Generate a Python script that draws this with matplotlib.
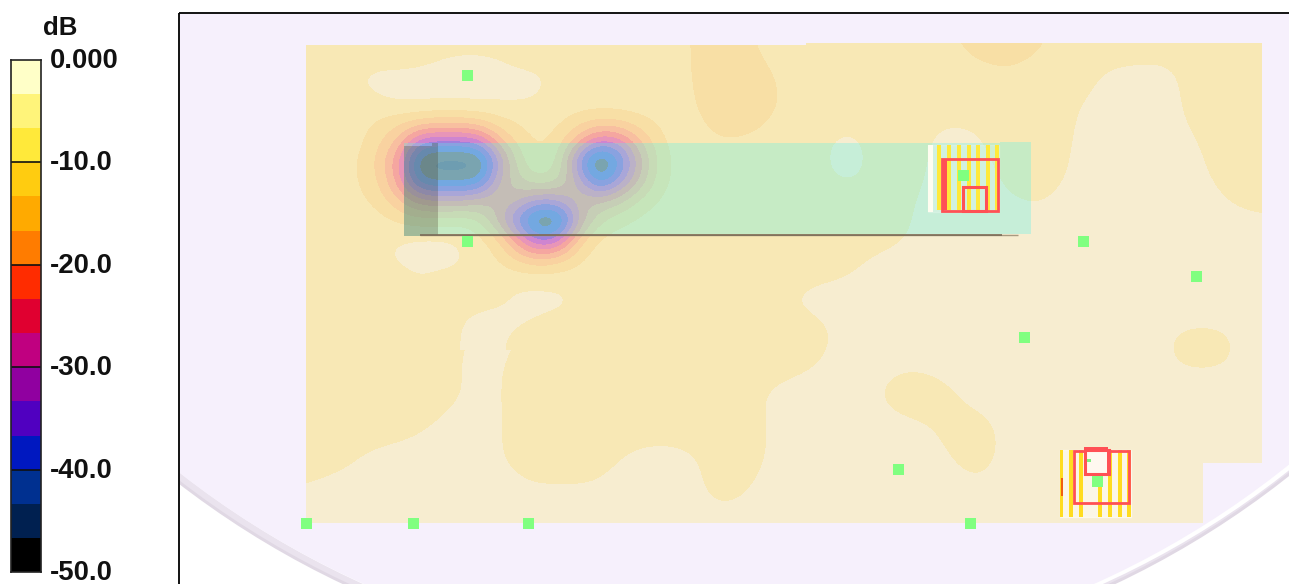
import numpy as np
import matplotlib
matplotlib.use("Agg")
import matplotlib.pyplot as plt
from matplotlib.colors import ListedColormap, BoundaryNorm
from matplotlib.patches import Rectangle, Circle, Polygon
from matplotlib.transforms import ScaledTranslation

plt.rcParams['font.family'] = ['Liberation Sans', 'DejaVu Sans']

# colour scale
bar_levels = [-50.0, -46.67, -43.33, -40.0, -36.67, -33.33, -30.0, -26.67, -23.33, -20.0, -16.67, -13.33, -10.0, -6.67, -3.33, 0.0]
bar_colors = ['#000000', '#002050', '#003090', '#0018C0', '#5000C0', '#9000A0', '#C00080', '#E00030',
              '#FF2C00', '#FF7C00', '#FFAA00', '#FFCC10', '#FFE93A', '#FFF47A', '#FFFFC8']
map_colors = ['#70708A', '#7A7898', '#8B8397', '#8088DE', '#A080DC', '#CE85D0', '#E895B8', '#F5A6A0',
              '#F8BFA0', '#F9D2A0', '#F8DFA5', '#F8E8B5', '#F7EDD0', '#F7EDD0', '#F7EDD0']
tick_values = [0.0, -10.0, -20.0, -30.0, -40.0, -50.0]
tick_labels = ['0.000', '-10.0', '-20.0', '-30.0', '-40.0', '-50.0']

# level field over the floor, coarse (dB)
field_x = list(range(306, 1267, 32))
field_y = list(range(44, 525, 32))
field_db = [
 [-11,-11,-11,-11,-11,-11,-11,-11,-11,-11,-11,-11,-13.3,-15.6,-13.3,-11,-11,-11,-11,-11,-12.5,-15,-15,-14,-11,-11.5,-11.5,-11.5,-11.5,-11,-11],
 [-11,-11,-9.5,-9,-9,-9,-9,-9.5,-11,-11,-11,-11,-13.1,-16,-15,-12.5,-11,-11,-11,-11,-11,-12,-13,-11.5,-11.5,-9.5,-9,-9,-12,-12,-12],
 [-11,-11,-11,-10.5,-10.5,-10.5,-10.5,-10.5,-11,-11,-11,-11,-12.5,-16,-16,-12.5,-11,-11.2,-11,-11,-11,-11,-11,-12,-10,-9,-9,-9,-11.5,-12,-12],
 [-11,-11,-11,-11,-11,-11,-11,-11,-11,-11,-11,-11,-11.5,-13.5,-12.5,-11,-10.5,-9.2,-11,-11,-9,-9.6,-11.5,-11.5,-9.8,-9,-9,-9,-10,-12,-12],
 [-11,-11,-11,-11,-11,-11,-11,-11,-11,-11,-11,-11,-11,-11,-11,-11,-10.5,-9,-11,-10.7,-9,-9,-10.7,-11.5,-9.5,-9,-9,-9,-9.5,-11.5,-12],
 [-11,-11,-11,-11,-11,-11,-11,-11,-11,-11,-11,-11,-11,-11,-11,-11,-11,-11.2,-11,-10,-9,-9,-9.7,-10,-9,-9,-9,-9,-9,-10,-10.5],
 [-11,-11,-11,-9.8,-9.3,-9.3,-11,-11,-11,-11,-11,-11,-11,-11,-11,-11,-11,-11,-11,-9.8,-9,-9,-9,-9,-9,-9,-9,-9,-9,-9,-9],
 [-11,-11,-11,-9.7,-9,-9,-11,-11,-11,-11,-11,-11,-11,-11,-11,-11,-11,-10.4,-9,-9,-9,-9,-9,-9,-9,-9,-9,-9,-9,-9,-9],
 [-11,-11,-11,-11,-11,-11,-10.8,-9,-9,-11,-11,-11,-11,-11,-11,-10,-9,-9,-9,-9,-9,-9,-9,-9,-9,-9,-9,-9,-9,-9,-9],
 [-11,-11,-11,-11,-11.5,-10,-9,-10.5,-11,-11,-11,-11,-11,-11,-11,-11,-11,-9,-9,-9,-9,-9,-9,-9,-9,-9,-9,-10.1,-10.4,-10.1,-9],
 [-11,-11,-11,-11,-11,-9.6,-9.7,-11,-11,-11,-11,-11,-11,-11,-11,-11,-10,-9,-9.5,-9.6,-9.2,-9,-9,-9,-9,-9,-9,-10.1,-10.4,-10.1,-9],
 [-11,-11,-11,-11,-11,-9.8,-9.7,-11,-11,-11,-11,-11,-11,-11,-10.4,-9,-9,-9,-10.2,-11.5,-10.6,-9.2,-9,-9,-9,-9,-9,-9,-9,-9,-9],
 [-11,-11,-11,-10.8,-9.8,-9,-9.8,-11,-11,-11,-11,-11,-11,-11,-10.8,-9,-9,-9,-9.2,-9.3,-10.5,-11,-9.3,-9,-9,-9,-9,-9,-9,-9,-9],
 [-11,-10.7,-9.5,-9,-9,-9,-9.8,-11,-11,-11,-9.7,-9,-9.5,-11,-10.6,-9,-9,-9,-9,-9,-9.7,-11,-9.2,-9,-9,-9,-9,-9,-9,-9,-9],
 [-9.7,-9,-9,-9,-9,-9,-9,-9.6,-9.6,-9.6,-9,-9,-9.2,-11,-9.7,-9,-9,-9,-9,-9,-9,-9.5,-9,-9,-9,-9,-9,-9,-9,-9,-9],
 [-9,-9,-9,-9,-9,-9,-9,-9,-9,-9,-9,-9,-9,-9,-9,-9,-9,-9,-9,-9,-9,-9,-9,-9,-9,-9,-9,-9,-9,-9,-9],
]

# finer level field around the three deep minima (dB)
detail_x = list(range(340, 681, 20))
detail_y = list(range(40, 341, 20))
detail_db = [
 [-11,-11,-11,-11,-11,-11,-11,-11,-11,-11,-11,-11,-11,-11,-11,-11,-11,-11],
 [-11,-11,-11,-11,-10.6,-10,-9.6,-9.6,-10,-10.8,-11,-11,-11,-11,-11,-11,-11,-11],
 [-11,-10,-9,-9,-9,-9,-9,-9,-9,-9,-9.5,-11,-11,-11,-11,-11,-11,-11],
 [-11,-11,-10.2,-9,-9,-9,-9,-9,-9.3,-9.6,-10.3,-11,-11,-11.2,-11.2,-11,-11,-11],
 [-11,-12,-13.5,-15,-16,-17,-17,-16,-14,-12.5,-11.5,-12.5,-15,-16,-15.5,-14,-12.5,-11],
 [-11,-12.5,-16,-21,-32,-33,-33,-31,-20,-15,-12.5,-15,-22,-30,-28,-20,-14,-11.5],
 [-11.5,-13.5,-18,-27,-44,-46,-46,-45,-30,-17,-13,-17,-36,-47,-38,-25,-15,-12],
 [-11.5,-13.5,-17,-26,-41,-42,-42,-41,-26,-20,-16,-19,-29,-42,-33,-23,-14.5,-12],
 [-11,-12.5,-15,-20,-26,-27,-27,-25,-23,-26,-31,-29,-23,-24,-21,-16,-13,-11.5],
 [-11,-11,-12,-14,-15,-15,-14,-16,-26,-37,-46,-44,-27,-17,-14.5,-12.5,-11.5,-11],
 [-11,-11,-10.5,-9.8,-9.3,-9.3,-10,-12,-16,-27,-36,-32,-17,-12.5,-11.5,-11,-11,-11],
 [-11,-11,-10.5,-9.7,-9,-9,-9.7,-11,-13.5,-17,-19,-17,-13.5,-11.5,-11,-11,-11,-11],
 [-11,-11,-11,-11,-10.2,-11,-11,-11,-11,-10.8,-10.8,-11,-11,-11,-11,-11,-11,-11],
 [-11,-11,-11,-11,-11,-11,-11,-11,-10.6,-9.2,-9,-9.2,-10.6,-11,-11,-11,-11,-11],
 [-11,-11,-11,-11,-11,-11,-10.2,-9.3,-9,-9.6,-10.4,-11,-11,-11,-11,-11,-11,-11],
 [-11,-11,-11,-11,-11,-11,-10,-9,-9.6,-11,-11,-11,-11,-11,-11,-11,-11,-11],
]

# measurement sites
site_x = [467, 467, 963, 1083, 1196, 1024, 898, 1097, 306, 413, 528, 970]
site_y = [75, 241, 175, 241, 276, 337, 469, 481, 523, 523, 523, 523]

# floor outline
floor_x = [306, 806, 806, 1262, 1262, 1203, 1203, 306]
floor_y = [45, 45, 43, 43, 463, 463, 523, 523]

# obstacles: stripes and frames
stripes_a = [939, 949, 959, 969, 978, 988, 997]
stripes_b = [1061.5, 1071, 1081, 1100, 1110, 1120, 1129]

W, H = 1289, 584
fig = plt.figure(figsize=(W / 100, H / 100), dpi=100, facecolor='white')
ax = fig.add_axes([0, 0, 1, 1])

cmap = ListedColormap(map_colors)
norm = BoundaryNorm(bar_levels, cmap.N)


def draw_field(xs, ys, vals, z, clip):
    dx, dy = xs[1] - xs[0], ys[1] - ys[0]
    ext = (xs[0] - dx / 2, xs[-1] + dx / 2, ys[-1] + dy / 2, ys[0] - dy / 2)
    im = ax.imshow(np.array(vals, float), extent=ext, cmap=cmap, norm=norm, origin='upper',
                   interpolation='bicubic', interpolation_stage='data', aspect='auto', zorder=z)
    im.set_clip_path(clip)
    return im


# surrounding disc with its shaded rim
plot_area = Rectangle((180, 14), W - 180, H - 14, transform=ax.transData, fc='none', ec='none')
ax.add_patch(plot_area)
for cx, r, c in [(729, 902, '#E0D8E4'), (729, 899, '#EAE3EE'), (733, 895, '#FFFFFF'), (729, 893, '#F6F0FC')]:
    disc = Circle((cx, -231), r, fc=c, ec='none', zorder=1)
    ax.add_patch(disc)
    disc.set_clip_path(plot_area)

floor = Polygon(list(zip(floor_x, floor_y)), closed=True, fc='none', ec='none', transform=ax.transData)
ax.add_patch(floor)
draw_field(field_x, field_y, field_db, 2, floor)
draw_field(detail_x, detail_y, detail_db, 3, floor)

# translucent duct
ax.add_patch(Polygon([(404, 143), (1000, 143), (1000, 142), (1031, 142), (1031, 234), (438, 234), (438, 236), (404, 236)],
                     closed=True, fc='#55F3EB', alpha=0.3, ec='none', zorder=4))
ax.add_patch(Rectangle((404, 146), 34, 90, fc='#463C28', alpha=0.28, ec='none', zorder=5))
ax.add_patch(Rectangle((432, 143), 6, 3, fc='#463C28', alpha=0.28, ec='none', zorder=5))
ax.plot([420, 1018], [235.2, 235.2], color='#A89A80', lw=1.0, zorder=6, solid_capstyle='butt')
ax.plot([420, 1002], [235.2, 235.2], color='#7A6C58', lw=1.2, zorder=6, solid_capstyle='butt')

# obstacle A
ax.add_patch(Rectangle((928, 145), 71, 67, fc='#FFFFFF', alpha=0.2, ec='#FFFFFF', lw=1, zorder=7))
ax.add_patch(Rectangle((928, 145), 5, 67, fc='#FFFDF0', ec='none', zorder=7))
for x in stripes_a:
    ax.add_patch(Rectangle((x - 2, 145), 4, 65, fc='#FFE93A', ec='none', zorder=8))
ax.add_patch(Rectangle((942, 159), 56, 52, fc='none', ec='#FF5055', lw=2.0, zorder=9))
ax.add_patch(Rectangle((942, 160), 5, 50, fc='#FF5055', ec='none', zorder=9))
ax.add_patch(Rectangle((963, 187), 23, 24, fc='none', ec='#FF5055', lw=2.2, zorder=9))

# obstacle B
ax.add_patch(Rectangle((1060, 450), 71, 67, fc='#FFFFFF', alpha=0.5, ec='#FFFFFF', lw=1, zorder=7))
for x in stripes_b:
    ax.add_patch(Rectangle((x - 1.7, 450), 3.4, 67, fc='#FFDC20', ec='none', zorder=8))
ax.add_patch(Rectangle((1060.8, 478), 2, 18, fc='#F06010', ec='none', zorder=8))
ax.add_patch(Rectangle((1074, 451), 55, 52, fc='none', ec='#FF5055', lw=2.0, zorder=9))
ax.add_patch(Rectangle((1085, 450), 24, 24, fc='#FFF8F0', ec='#FF5055', lw=2.2, zorder=9))
ax.add_patch(Rectangle((1084, 447), 24, 2, fc='#FF5055', ec='none', zorder=9))
ax.add_patch(Rectangle((1107, 450), 3, 24, fc='#FF5055', ec='none', zorder=9))
ax.add_patch(Rectangle((1087, 459), 4, 3, fc='#80F080', ec='none', zorder=10))

# sites
ax.scatter(site_x, site_y, marker='s', s=(11 * 0.72) ** 2, c='#80FF80', linewidths=0, zorder=11)

# frame
ax.plot([179, 179], [H, 13], color='black', lw=1.3, zorder=12, solid_capstyle='butt')
ax.plot([179, W], [13, 13], color='black', lw=1.3, zorder=12, solid_capstyle='butt')

ax.set_xlim(0, W)
ax.set_ylim(H, 0)
ax.axis('off')

# colour bar
cax = fig.add_axes([11 / W, (H - 572) / H, 30 / W, 512 / H])
cax.pcolormesh([0, 1], bar_levels, np.arange(15).reshape(-1, 1),
               cmap=ListedColormap(bar_colors), vmin=-0.5, vmax=14.5)
for v in tick_values[1:-1]:
    cax.axhline(v, color='#101010', lw=1.2)
cax.set_xlim(0, 1)
cax.set_ylim(-50, 0)
cax.set_xticks([])
cax.yaxis.tick_right()
cax.set_yticks(tick_values)
cax.set_yticklabels(tick_labels, fontsize=19.8, fontweight='bold', color='#111111')
cax.tick_params(axis='y', length=0, pad=6.5)
label_shift = ScaledTranslation(0, 2 / 100, fig.dpi_scale_trans)
for lab in cax.get_yticklabels():
    lab.set_va('center_baseline')
    lab.set_transform(lab.get_transform() + label_shift)
for s in cax.spines.values():
    s.set_linewidth(1.2)
    s.set_color('#222222')
fig.text(43 / W, 1 - 28 / H, 'dB', fontsize=18.5, fontweight='bold', color='#111111', va='center', ha='left')

fig.savefig('out.png', dpi=100)
